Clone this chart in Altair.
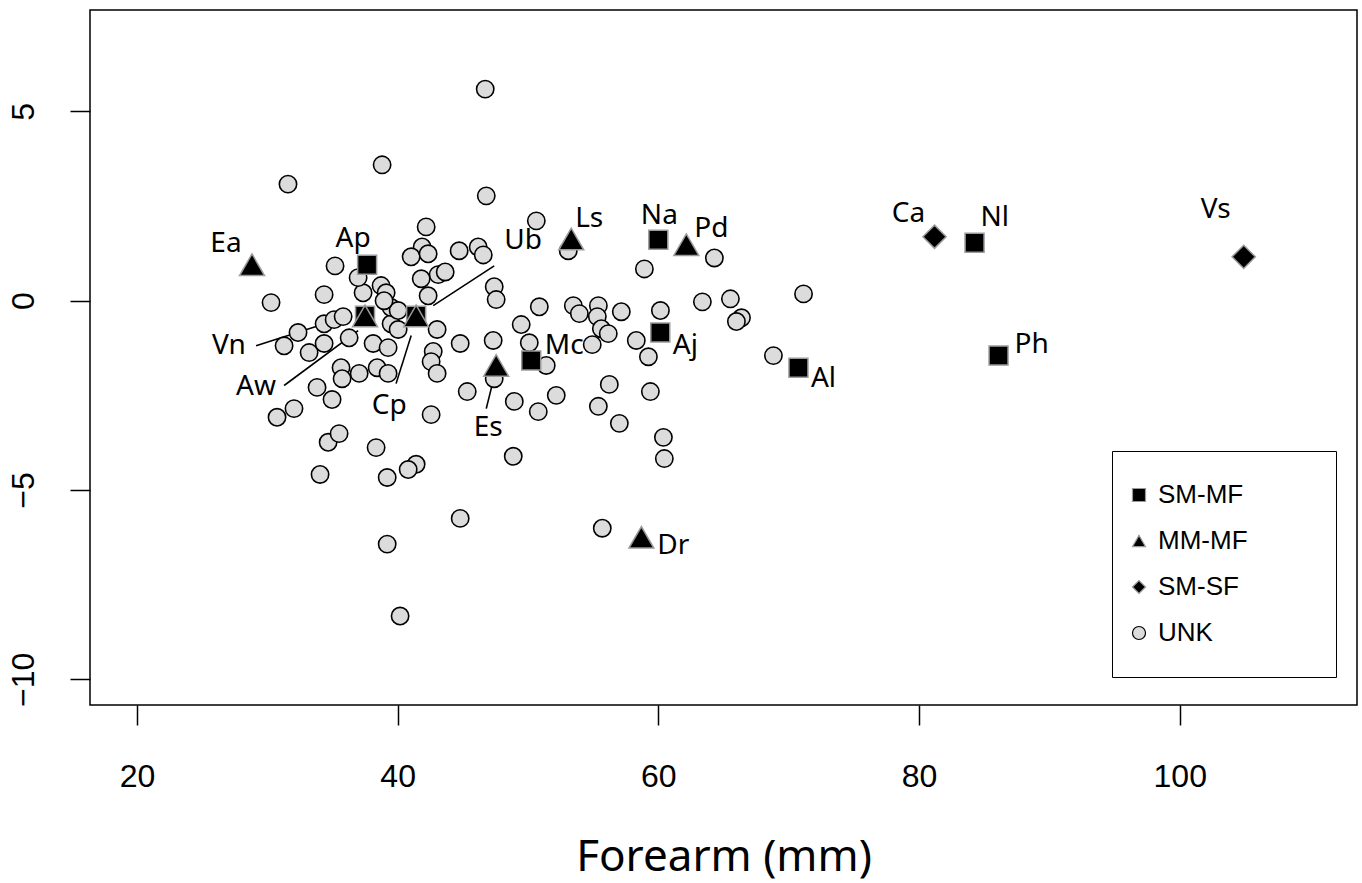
import altair as alt
import pandas as pd

# ---- unlabeled (UNK) specimens: forearm (mm) and score ----
unk_x = [46.72, 31.59, 38.81, 46.80, 50.64, 53.09, 42.19, 41.88, 41.04, 42.34,
         44.72, 46.18, 46.57, 41.81, 43.11, 43.65, 42.34, 47.41, 47.56, 50.87,
         49.48, 53.48, 53.94, 55.40, 55.32, 55.63, 56.16, 54.93, 57.16, 60.16,
         58.93, 64.30, 63.38, 65.53, 66.38, 65.99, 71.14, 68.83, 58.31, 59.24,
         56.24, 59.39, 55.40, 57.01, 60.39, 60.46, 52.17, 50.79, 48.95, 48.87,
         50.10, 51.40, 47.41, 47.33, 44.80, 45.34, 43.03, 42.73, 42.57, 43.03,
         42.57, 41.42, 40.81, 39.20, 38.35, 44.80, 55.70, 39.20, 40.19, 34.05,
         34.67, 35.51, 30.75, 32.05, 33.82, 34.97, 35.66, 35.74, 37.05, 38.43,
         39.27, 38.12, 39.27, 39.50, 40.04, 39.50, 40.04, 36.28, 34.36, 33.21,
         31.29, 32.36, 34.36, 35.13, 35.82, 30.29, 34.36, 37.35, 38.73, 39.12,
         35.20, 36.97, 38.96]
unk_y = [5.59, 3.08, 3.59, 2.77, 2.11, 1.32, 1.95, 1.42, 1.16, 1.24,
         1.32, 1.42, 1.21, 0.58, 0.69, 0.76, 0.13, 0.37, 0.03, -0.16,
         -0.63, -0.13, -0.34, -0.13, -0.42, -0.74, -0.87, -1.16, -0.29, -0.26,
         0.84, 1.13, -0.03, 0.05, -0.45, -0.55, 0.18, -1.45, -1.05, -1.48,
         -2.21, -2.40, -2.79, -3.24, -3.61, -4.17, -2.50, -2.93, -2.66, -4.11,
         -1.11, -1.71, -2.06, -1.05, -1.13, -2.40, -0.76, -1.34, -1.61, -1.92,
         -3.01, -4.32, -4.46, -4.67, -3.88, -5.75, -6.01, -6.43, -8.33, -4.59,
         -3.74, -3.51, -3.08, -2.85, -2.29, -2.61, -1.77, -2.06, -1.92, -1.77,
         -1.92, -1.13, -1.24, -0.61, -0.76, -0.18, -0.26, -0.98, -1.13, -1.37,
         -1.19, -0.84, -0.61, -0.50, -0.42, -0.05, 0.16, 0.21, 0.40, 0.21,
         0.92, 0.61, 0.00]

# ---- labelled species ----
sp_names = ["Ea", "Ap", "Vn", "Aw", "Cp", "Ub", "Ls", "Na", "Pd",
            "Es", "Mc", "Aj", "Al", "Dr", "Ca", "Nl", "Ph", "Vs"]
sp_group = ["MM-MF", "SM-MF", "SM-MF", "MM-MF", "SM-MF", "MM-MF", "MM-MF", "SM-MF", "MM-MF",
            "MM-MF", "SM-MF", "SM-MF", "SM-MF", "MM-MF", "SM-SF", "SM-MF", "SM-MF", "SM-SF"]
sp_x = [28.83, 37.66, 37.50, 37.50, 41.42, 41.42, 53.32, 60.00, 62.15,
        47.56, 50.25, 60.15, 70.75, 58.70, 81.19, 84.26, 86.10, 104.91]
sp_y = [0.95, 0.95, -0.40, -0.40, -0.40, -0.40, 1.63, 1.61, 1.48,
        -1.71, -1.58, -0.84, -1.77, -6.25, 1.69, 1.53, -1.45, 1.16]

# label anchor positions (data units)
txt_x = [26.83, 36.58, 27.06, 29.14, 39.35, 49.63, 54.70, 60.08, 64.07,
         46.95, 52.78, 62.07, 72.67, 61.15, 79.19, 85.80, 88.64, 102.76]
txt_y = [1.50, 1.63, -1.19, -2.29, -2.77, 1.58, 2.16, 2.24, 1.90,
         -3.35, -1.19, -1.19, -2.06, -6.49, 2.29, 2.19, -1.16, 2.40]

# leader lines
seg_x1 = [29.14, 31.29, 39.88, 42.73, 46.80]
seg_y1 = [-1.19, -2.24, -2.19, -0.13, -2.85]
seg_x2 = [35.66, 36.97, 41.04, 47.41, 47.33]
seg_y2 = [-0.47, -0.79, -0.92, 0.92, -2.11]

groups = ["SM-MF", "MM-MF", "SM-SF", "UNK"]
shapes = ["square", "triangle-up", "diamond", "circle"]
fills = ["#000000", "#000000", "#000000", "#dcdcdc"]
strokes = ["#9a9a9a", "#9a9a9a", "#9a9a9a", "#000000"]

pts = pd.DataFrame({
    "x": unk_x + sp_x,
    "y": unk_y + sp_y,
    "grp": ["UNK"] * len(unk_x) + sp_group,
})
labels = pd.DataFrame({"x": txt_x, "y": txt_y, "name": sp_names})
segs = pd.DataFrame({"x": seg_x1, "y": seg_y1, "x2": seg_x2, "y2": seg_y2})

xscale = alt.Scale(domain=[16.4, 113.6], nice=False, zero=False)
yscale = alt.Scale(domain=[-10.68, 7.68], nice=False, zero=False)

xaxis = alt.Axis(values=[20, 40, 60, 80, 100], title="Forearm (mm)", grid=False,
                 domain=False, tickColor="black", tickSize=20, tickWidth=1.5,
                 labelFont="Liberation Sans", labelFontSize=32, labelColor="black",
                 labelPadding=36, labelBaseline="top", labelAngle=0,
                 titleFont="Noto Sans", titleFontSize=44, titleFontWeight="normal",
                 titleColor="black", titleY=165, titleBaseline="alphabetic")
yaxis = alt.Axis(values=[-10, -5, 0, 5], title=None, grid=False,
                 domain=False, tickColor="black", tickSize=20, tickWidth=1.5,
                 labelFont="Liberation Sans", labelFontSize=32, labelColor="black",
                 labelAngle=270, labelAlign="center", labelBaseline="alphabetic",
                 labelPadding=37)

pad = "\u2800" * 3
legend = alt.Legend(orient="none", legendX=1022, legendY=441, title=None,
                    padding=31, strokeColor="black", fillColor="white",
                    symbolSize=170, symbolStrokeWidth=1.2, symbolOffset=-17,
                    labelFont="Liberation Sans", labelFontSize=26, labelColor="black",
                    rowPadding=20, labelOffset=6, labelLimit=400,
                    labelExpr="datum.label + '" + pad + "'")

enc = dict(
    x=alt.X("x:Q", scale=xscale, axis=xaxis),
    y=alt.Y("y:Q", scale=yscale, axis=yaxis),
    shape=alt.Shape("grp:N", scale=alt.Scale(domain=groups, range=shapes), legend=legend),
    fill=alt.Fill("grp:N", scale=alt.Scale(domain=groups, range=fills), legend=legend),
    stroke=alt.Stroke("grp:N", scale=alt.Scale(domain=groups, range=strokes), legend=legend),
)

base = alt.Chart(pts)
circles = base.transform_filter("datum.grp == 'UNK'").mark_point(
    filled=True, size=300, strokeWidth=1.6, opacity=1).encode(**enc)
squares = base.transform_filter("datum.grp == 'SM-MF'").mark_point(
    filled=True, size=360, strokeWidth=1.5, opacity=1).encode(**enc)
diamonds = base.transform_filter("datum.grp == 'SM-SF'").mark_point(
    filled=True, size=540, strokeWidth=1.5, opacity=1).encode(**enc)
triangles = base.transform_filter("datum.grp == 'MM-MF'").mark_point(
    filled=True, size=620, strokeWidth=1.5, opacity=1).encode(**enc)

rules = alt.Chart(segs).mark_rule(color="black", strokeWidth=1.6).encode(
    x=alt.X("x:Q", scale=xscale, axis=xaxis),
    y=alt.Y("y:Q", scale=yscale, axis=yaxis),
    x2="x2:Q", y2="y2:Q")

texts = alt.Chart(labels).mark_text(font="Noto Sans", fontSize=28, color="black",
                                    align="center", baseline="middle").encode(
    x=alt.X("x:Q", scale=xscale, axis=xaxis),
    y=alt.Y("y:Q", scale=yscale, axis=yaxis),
    text="name:N")

chart = alt.layer(rules, circles, squares, diamonds, triangles, texts).properties(
    width=1267, height=695, autosize="none",
    padding={"left": 90, "top": 10, "right": 5, "bottom": 178},
    background="white",
).configure_view(stroke="black", strokeWidth=1.5)

chart.save("out.html", embed_options={"renderer": "svg", "actions": False})
